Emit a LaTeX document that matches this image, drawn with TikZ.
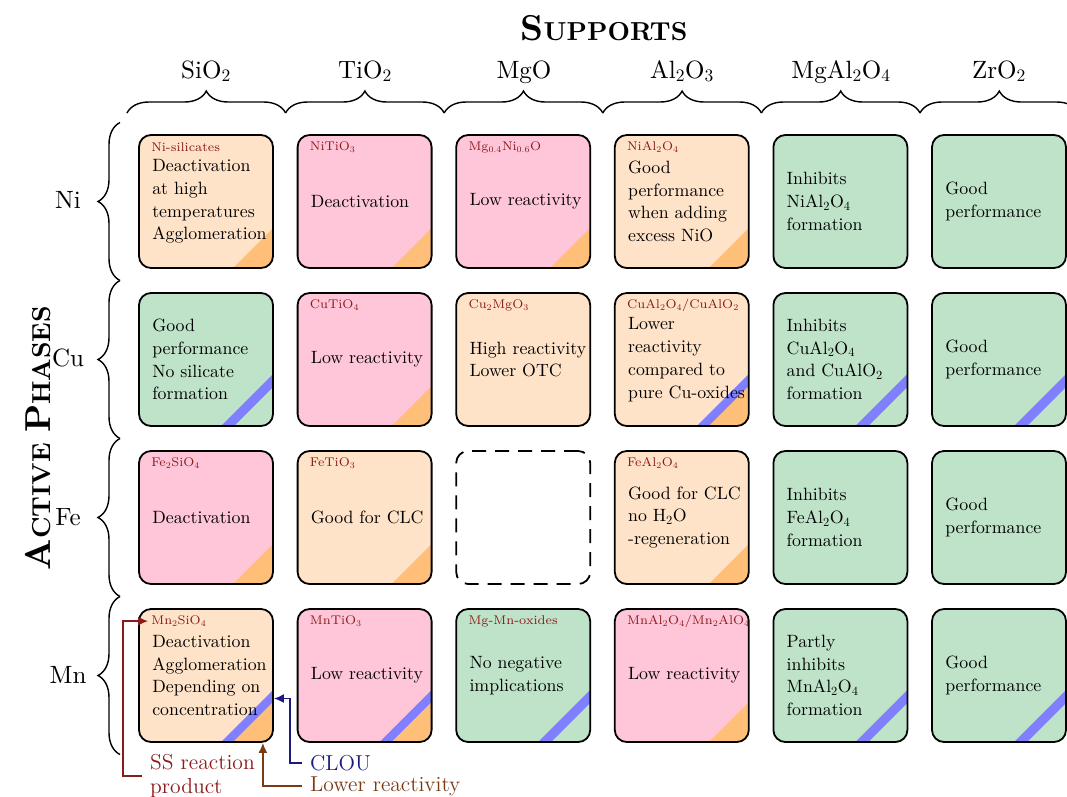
\documentclass[tikz,border=0pt]{standalone}
\usepackage{fontspec}
\setmainfont{lmroman10-regular.otf}[BoldFont=lmroman10-bold.otf, ItalicFont=lmroman10-italic.otf]
\newfontfamily\lblfont{lmroman7-regular.otf}
\newfontfamily\legfont{lmroman12-regular.otf}
\usetikzlibrary{arrows.meta,decorations.pathreplacing}
\definecolor{cpeach}{HTML}{FFE3C9}
\definecolor{cpink}{HTML}{FFC6DA}
\definecolor{cgreen}{HTML}{BEE3C9}
\definecolor{corange}{HTML}{FFBF78}
\definecolor{cblue}{HTML}{7F7FFF}
\definecolor{clabel}{HTML}{8B1A1A}
\definecolor{cnavy}{HTML}{1A1A80}
\definecolor{cbrown}{HTML}{7A3B14}
\tikzset{
  cellbox/.style={rectangle, draw=black, line width=1.8pt, rounded corners=12pt,
    minimum width=134pt, minimum height=133pt, inner sep=0pt},
  orc/.style={path picture={\fill[corange, sharp corners] ([xshift=-40pt]path picture bounding box.south east) -- (path picture bounding box.south east) -- ([yshift=40pt]path picture bounding box.south east) -- cycle;}},
  blc/.style={path picture={\fill[cblue, sharp corners] ([xshift=-52pt]path picture bounding box.south east) -- ([xshift=-39pt]path picture bounding box.south east) -- ([yshift=39pt]path picture bounding box.south east) -- ([yshift=52pt]path picture bounding box.south east) -- cycle;}},
  bothc/.style={path picture={\fill[cblue, sharp corners] ([xshift=-52pt]path picture bounding box.south east) -- ([xshift=-39pt]path picture bounding box.south east) -- ([yshift=39pt]path picture bounding box.south east) -- ([yshift=52pt]path picture bounding box.south east) -- cycle;
     \fill[corange, sharp corners] ([xshift=-40pt]path picture bounding box.south east) -- (path picture bounding box.south east) -- ([yshift=40pt]path picture bounding box.south east) -- cycle;}},
  lbl/.style={inner sep=0pt, text=clabel, font=\lblfont\fontsize{12.6}{14}\selectfont},
  body/.style={inner sep=0pt, align=left, font=\fontsize{17.8}{22.8}\selectfont},
  hdr/.style={anchor=base, font=\fontsize{25}{28}\selectfont},
  legtxt/.style={inner sep=0pt, anchor=west, align=left, font=\legfont\fontsize{21.6}{24.5}\selectfont},
  brc/.style={decorate, decoration={brace, amplitude=22pt}, line width=1.4pt},
  arr/.style={line width=1.6pt, -{Latex[length=10pt,width=9pt]}},
}
\newcommand{\mycell}[6]{%
  \node[cellbox, #4] (#1) at ({206+158.6*#2},{201.5+158*#3}) {};
  \def\mytmplbl{#5}%
  \ifx\mytmplbl\empty\else
    \node[lbl, anchor=west] (#1l) at ([xshift=13pt,yshift=-13pt]#1.north west) {#5};
  \fi
  \node[body, anchor=west] (#1b) at ([xshift=14pt]#1.west) {#6};
}
\begin{document}
\begin{tikzpicture}[x=1pt,y=-1pt]
\useasboundingbox (0,0) rectangle (1067,796);
% titles
\node[anchor=base] (sup) at (604,40) {\fontsize{36}{36}\selectfont\bfseries S\fontsize{26}{26}\selectfont UPPORTS};
\node[rotate=90, anchor=base] (act) at (50,438) {\fontsize{36}{36}\selectfont\bfseries A\fontsize{26}{26}\selectfont CTIVE \fontsize{36}{36}\selectfont P\fontsize{26}{26}\selectfont HASES};
% column headers
\node[hdr] (hsi) at (206,78) {SiO\textsubscript{2}};
\node[hdr] (hti) at (365,78) {TiO\textsubscript{2}};
\node[hdr] (hmg) at (524,78) {MgO};
\node[hdr] (hal) at (682,78) {Al\textsubscript{2}O\textsubscript{3}};
\node[hdr] (hma) at (841,78) {MgAl\textsubscript{2}O\textsubscript{4}};
\node[hdr] (hzr) at (999,78) {ZrO\textsubscript{2}};
\foreach \i in {0,...,5}{
  \draw[brc] ({127+158.6*\i},113) -- ({127+158.6*(\i+1)},113);
}
% row headers
\node[hdr] (rni) at (68,208) {Ni};
\node[hdr] (rcu) at (68,366) {Cu};
\node[hdr] (rfe) at (68,525) {Fe};
\node[hdr] (rmn) at (68,683) {Mn};
\foreach \j in {0,...,3}{
  \draw[brc] (120,{201.5+158*\j+79}) -- (120,{201.5+158*\j-79});
}
% Ni row
\mycell{c00}{0}{0}{fill=cpeach, orc}{Ni-silicates}{Deactivation\\at high\\temperatures\\Agglomeration}
\mycell{c10}{1}{0}{fill=cpink, orc}{NiTiO\textsubscript{3}}{Deactivation}
\mycell{c20}{2}{0}{fill=cpink, orc}{Mg\textsubscript{0.4}Ni\textsubscript{0.6}O}{Low reactivity}
\mycell{c30}{3}{0}{fill=cpeach, orc}{NiAl\textsubscript{2}O\textsubscript{4}}{Good\\performance\\when adding\\excess NiO}
\mycell{c40}{4}{0}{fill=cgreen}{}{Inhibits\\NiAl\textsubscript{2}O\textsubscript{4}\\formation}
\mycell{c50}{5}{0}{fill=cgreen}{}{Good\\performance}
% Cu row
\mycell{c01}{0}{1}{fill=cgreen, blc}{}{Good\\performance\\No silicate\\formation}
\mycell{c11}{1}{1}{fill=cpink, orc}{CuTiO\textsubscript{4}}{Low reactivity}
\mycell{c21}{2}{1}{fill=cpeach}{Cu\textsubscript{2}MgO\textsubscript{3}}{High reactivity\\Lower OTC}
\mycell{c31}{3}{1}{fill=cpeach, bothc}{CuAl\textsubscript{2}O\textsubscript{4}/CuAlO\textsubscript{2}}{Lower\\reactivity\\compared to\\pure Cu-oxides}
\mycell{c41}{4}{1}{fill=cgreen, blc}{}{Inhibits\\CuAl\textsubscript{2}O\textsubscript{4}\\and CuAlO\textsubscript{2}\\formation}
\mycell{c51}{5}{1}{fill=cgreen, blc}{}{Good\\performance}
% Fe row
\mycell{c02}{0}{2}{fill=cpink, orc}{Fe\textsubscript{2}SiO\textsubscript{4}}{Deactivation}
\mycell{c12}{1}{2}{fill=cpeach, orc}{FeTiO\textsubscript{3}}{Good for CLC}
\node[cellbox, dash pattern=on 14pt off 9pt] (c22) at ({206+158.6*2},{201.5+158*2}) {};
\mycell{c32}{3}{2}{fill=cpeach, orc}{FeAl\textsubscript{2}O\textsubscript{4}}{Good for CLC\\no H\textsubscript{2}O\\-regeneration}
\mycell{c42}{4}{2}{fill=cgreen}{}{Inhibits\\FeAl\textsubscript{2}O\textsubscript{4}\\formation}
\mycell{c52}{5}{2}{fill=cgreen}{}{Good\\performance}
% Mn row
\mycell{c03}{0}{3}{fill=cpeach, bothc}{Mn\textsubscript{2}SiO\textsubscript{4}}{Deactivation\\Agglomeration\\Depending on\\concentration}
\mycell{c13}{1}{3}{fill=cpink, bothc}{MnTiO\textsubscript{3}}{Low reactivity}
\mycell{c23}{2}{3}{fill=cgreen, blc}{Mg-Mn-oxides}{No negative\\implications}
\mycell{c33}{3}{3}{fill=cpink, orc}{MnAl\textsubscript{2}O\textsubscript{4}/Mn\textsubscript{2}AlO\textsubscript{4}}{Low reactivity}
\mycell{c43}{4}{3}{fill=cgreen, blc}{}{Partly\\inhibits\\MnAl\textsubscript{2}O\textsubscript{4}\\formation}
\mycell{c53}{5}{3}{fill=cgreen, blc}{}{Good\\performance}
% legend
\node[legtxt, text=clabel] (ss) at (150,776) {SS reaction\\product};
\node[legtxt, text=cnavy] (clou) at (310,763) {CLOU};
\node[legtxt, text=cbrown] (lowr) at (310,786) {Lower reactivity};
\draw[arr, clabel] ([xshift=-8pt]ss.west) -- ++(-19,0) |- ([xshift=-3pt]c03l.west);
\draw[arr, cnavy] ([xshift=-8pt]clou.west) -- ++(-12,0) |- ([yshift=-23pt]c03.east);
\draw[arr, cbrown] ([xshift=-8pt]lowr.west) -| ([xshift=-11pt]c03.south east);
\end{tikzpicture}
\end{document}
